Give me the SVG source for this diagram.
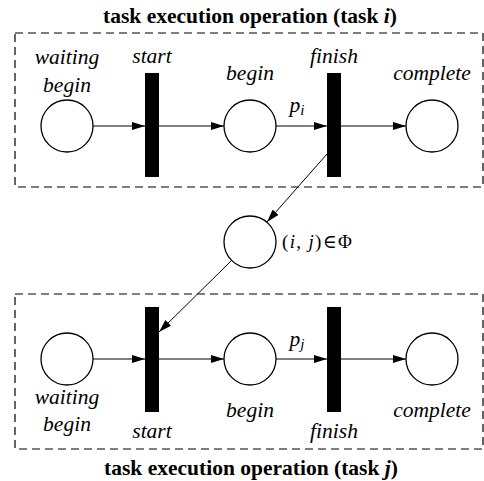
<svg xmlns="http://www.w3.org/2000/svg" width="484" height="481" viewBox="0 0 484 481">
<style>
.box{fill:none;stroke:#000;stroke-width:1.2;stroke-dasharray:8 5}
.place{fill:#fff;stroke:#000;stroke-width:1.3}
.bar{fill:#000}
text{font-family:'Liberation Serif','Times New Roman','DejaVu Serif',serif;fill:#000}
.lbl{font-style:italic;font-size:21.5px;text-anchor:middle}
.title{font-weight:bold;font-size:21.5px;text-anchor:middle}
.edge{stroke:#000;stroke-width:1;fill:none;marker-end:url(#ah)}
.math{font-size:19px}
</style>
<defs>
<marker id="ah" markerWidth="13" markerHeight="8" refX="13" refY="4" orient="auto" markerUnits="userSpaceOnUse">
<path d="M0,0 L13,4 L0,8 Z" fill="#000"/>
</marker>
</defs>
<text class="title" x="250" y="23">task execution operation (task <tspan font-style="italic">i</tspan>)</text>
<text class="title" x="251" y="475">task execution operation (task <tspan font-style="italic">j</tspan>)</text>
<rect class="box" x="15" y="33" width="468" height="154"/>
<rect class="box" x="15" y="294" width="468" height="155"/>

<g id="conn">
<line class="edge" x1="93" y1="126" x2="145" y2="126"/>
<line class="edge" x1="159" y1="126" x2="224" y2="126"/>
<line class="edge" x1="276" y1="126" x2="327" y2="126"/>
<line class="edge" x1="341" y1="126" x2="406" y2="126"/>
<line class="edge" x1="93" y1="359" x2="145" y2="359"/>
<line class="edge" x1="159" y1="359" x2="224" y2="359"/>
<line class="edge" x1="276" y1="359" x2="327" y2="359"/>
<line class="edge" x1="341" y1="359" x2="406" y2="359"/>
<line class="edge" x1="327" y1="154" x2="267" y2="222"/>
<line class="edge" x1="231" y1="261" x2="159" y2="332"/>
</g>

<g id="i-waiting"><circle class="place" cx="67" cy="126" r="26"/><text class="lbl" x="67" y="64">waiting</text><text class="lbl" x="67" y="92">begin</text></g>
<g id="i-start"><rect class="bar" x="145" y="73" width="14" height="104"/><text class="lbl" x="152" y="63">start</text></g>
<g id="i-begin"><circle class="place" cx="250" cy="126" r="26"/><text class="lbl" x="250" y="80">begin</text></g>
<g id="i-finish"><rect class="bar" x="327" y="73" width="14" height="104"/><text class="lbl" x="334" y="63">finish</text></g>
<g id="i-complete"><circle class="place" cx="432" cy="126" r="26"/><text class="lbl" x="432" y="80">complete</text></g>
<text class="lbl" x="297" y="112">p<tspan font-size="15" dy="3">i</tspan></text>

<g id="phi"><circle class="place" cx="250" cy="242" r="26"/><text class="math" x="282" y="248" textLength="70">(<tspan font-style="italic">i</tspan>, <tspan font-style="italic">j</tspan>)∈Φ</text></g>

<g id="j-waiting"><circle class="place" cx="67" cy="359" r="26"/><text class="lbl" x="67" y="404">waiting</text><text class="lbl" x="67" y="431">begin</text></g>
<g id="j-start"><rect class="bar" x="145" y="307" width="14" height="105"/><text class="lbl" x="152" y="438">start</text></g>
<g id="j-begin"><circle class="place" cx="250" cy="359" r="26"/><text class="lbl" x="250" y="417">begin</text></g>
<g id="j-finish"><rect class="bar" x="327" y="307" width="14" height="105"/><text class="lbl" x="334" y="438">finish</text></g>
<g id="j-complete"><circle class="place" cx="432" cy="359" r="26"/><text class="lbl" x="432" y="417">complete</text></g>
<text class="lbl" x="297" y="346">p<tspan font-size="15" dy="3">j</tspan></text>
</svg>
